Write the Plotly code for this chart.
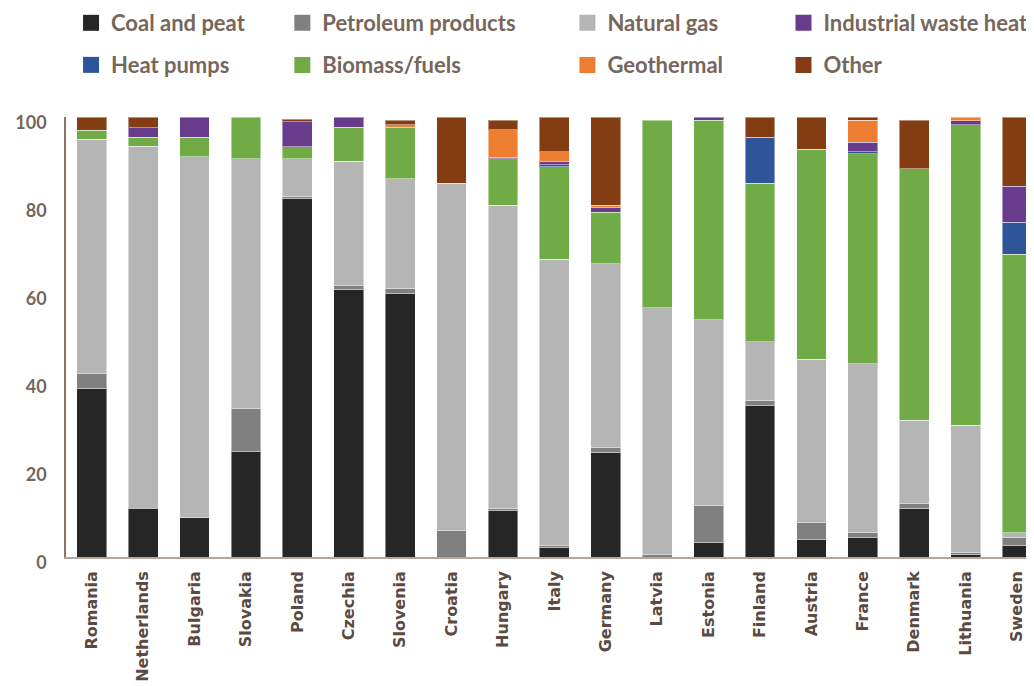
import plotly.graph_objects as go

countries = ["Romania", "Netherlands", "Bulgaria", "Slovakia", "Poland", "Czechia",
             "Slovenia", "Croatia", "Hungary", "Italy", "Germany", "Latvia", "Estonia",
             "Finland", "Austria", "France", "Denmark", "Lithuania", "Sweden"]

coal_and_peat = [38.3, 11.1, 8.9, 23.9, 81.4, 60.9, 59.8, 0, 10.5, 2.1, 23.8, 0, 3.3, 34.4, 3.9, 4.4, 11.1, 0.6, 2.7]
petroleum_products = [3.3, 0, 0, 9.8, 0.6, 0.7, 1.2, 6.0, 0.5, 0.5, 1.0, 0.5, 8.4, 1.1, 3.9, 1.1, 1.0, 0.5, 1.7]
natural_gas = [53.3, 82.2, 82.1, 56.8, 8.5, 28.3, 25.0, 78.9, 68.9, 65.1, 41.8, 56.2, 42.2, 13.4, 37.2, 38.4, 19.0, 28.9, 1.1]
biomass_fuels = [2.1, 2.1, 4.4, 9.5, 2.7, 7.8, 11.7, 0, 10.6, 21.0, 11.7, 42.6, 45.4, 36.0, 47.7, 47.7, 57.1, 68.2, 63.3]
heat_pumps = [0, 0, 0, 0, 0, 0, 0, 0, 0, 0.4, 0, 0, 0, 10.5, 0, 0.5, 0, 0, 7.3]
industrial_waste_heat = [0, 2.2, 4.6, 0, 5.7, 2.3, 0, 0, 0.4, 0.7, 1.1, 0, 0.7, 0, 0, 2.2, 0, 1.0, 8.2]
geothermal = [0, 0, 0, 0, 0, 0, 0.5, 0, 6.2, 2.3, 0.5, 0, 0, 0, 0, 5.0, 0, 0.8, 0]
other = [3.0, 2.4, 0, 0, 0.6, 0, 1.1, 15.1, 2.2, 7.9, 20.1, 0, 0, 4.6, 7.3, 0.7, 11.1, 0, 15.7]

y_ticks = [0, 20, 40, 60, 80, 100]

# stacking order (bottom -> top)
series = [
    ("Coal and peat", coal_and_peat, "#262626"),
    ("Petroleum products", petroleum_products, "#7f807f"),
    ("Natural gas", natural_gas, "#b5b5b5"),
    ("Biomass/fuels", biomass_fuels, "#70ab46"),
    ("Heat pumps", heat_pumps, "#2e5597"),
    ("Industrial waste heat", industrial_waste_heat, "#693b8d"),
    ("Geothermal", geothermal, "#ed7d31"),
    ("Other", other, "#843c13"),
]

# legend placement: (legend id, paper x, paper y)
legend_pos = {
    "Coal and peat": ("legend", 0.0052, 1.2136),
    "Petroleum products": ("legend2", 0.2235, 1.2136),
    "Natural gas": ("legend3", 0.5180, 1.2136),
    "Industrial waste heat": ("legend4", 0.7412, 1.2136),
    "Heat pumps": ("legend5", 0.0052, 1.118),
    "Biomass/fuels": ("legend6", 0.2235, 1.118),
    "Geothermal": ("legend7", 0.5180, 1.118),
    "Other": ("legend8", 0.7412, 1.118),
}

fig = go.Figure()
for name, vals, col in series:
    fig.add_trace(go.Bar(
        x=countries, y=[v if v else None for v in vals], name=name,
        marker=dict(color=col, line=dict(color="rgba(255,255,255,0.45)", width=1)),
        showlegend=False,
    ))
for name, vals, col in series:
    lg = legend_pos[name][0]
    fig.add_trace(go.Scatter(
        x=[None], y=[None], mode="markers", name=name, legend=lg,
        marker=dict(symbol="square", size=16, color=col, line=dict(width=0)),
        showlegend=True, hoverinfo="skip",
    ))

legend_font = dict(family="Lato", size=22, color="#76675d", weight="bold")
layout_legends = {}
for name, (lg, lx, ly) in legend_pos.items():
    layout_legends[lg] = dict(
        x=lx, y=ly, xanchor="left", yanchor="middle", orientation="v",
        font=legend_font, bgcolor="rgba(0,0,0,0)", borderwidth=0, itemwidth=30,
    )

# the page body adds an 8px offset, so the figure is sized to fit the window
fig.update_layout(
    width=1026, height=678,
    margin=dict(l=58, r=0, t=109, b=129, autoexpand=False),
    barmode="stack", bargap=0.42,
    plot_bgcolor="white", paper_bgcolor="white",
    xaxis=dict(
        type="category", range=[-0.5, 18.33], automargin=False,
        showline=True, linecolor="#b3a69c", linewidth=1.5,
        showgrid=False, ticks="", tickangle=-90, ticklabelstandoff=6,
        tickfont=dict(family="DejaVu Sans", size=16, color="#5a4a42", weight="bold"),
    ),
    yaxis=dict(
        range=[0, 100], tickvals=y_ticks, automargin=False,
        showline=True, linecolor="#8a7566", linewidth=1.5,
        showgrid=False, zeroline=False, ticks="", ticklabelstandoff=14,
        ticklabelshift=6,
        tickfont=dict(family="Lato", size=18, color="#76675d", weight="bold"),
    ),
    **layout_legends,
)

fig.write_html("out.html")
